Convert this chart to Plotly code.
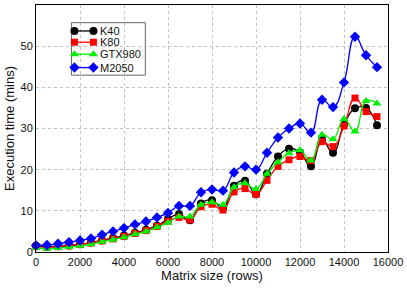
import plotly.graph_objects as go

matrix_size = [0, 500, 1000, 1500, 2000, 2500, 3000, 3500, 4000, 4500, 5000, 5500,
               6000, 6500, 7000, 7500, 8000, 8500, 9000, 9500, 10000, 10500, 11000,
               11500, 12000, 12500, 13000, 13500, 14000, 14500, 15000, 15500]

k40 = [1.5, 1.3, 1.4, 1.6, 1.9, 2.3, 2.8, 3.4, 4.0, 4.7, 5.4, 6.4,
       8.0, 9.2, 7.7, 11.8, 12.6, 10.6, 16.1, 17.3, 14.0, 19.0, 23.2,
       25.1, 24.2, 20.8, 27.3, 24.1, 31.0, 34.9, 35.0, 30.8]

k80 = [1.3, 1.1, 1.3, 1.5, 1.8, 2.2, 2.7, 3.2, 3.8, 4.5, 5.2, 6.2,
       7.5, 8.4, 7.8, 11.0, 11.6, 10.2, 14.6, 15.4, 14.0, 17.4, 20.8,
       22.4, 23.2, 22.2, 26.8, 25.6, 30.6, 37.4, 34.1, 32.9]

gtx980 = [1.0, 0.8, 1.0, 1.2, 1.5, 1.9, 2.5, 3.0, 3.6, 4.3, 5.0, 6.0,
          7.1, 8.6, 8.6, 11.5, 12.1, 11.5, 15.7, 16.7, 15.3, 19.0, 21.8,
          24.0, 24.7, 22.2, 28.5, 27.4, 32.3, 29.3, 36.7, 36.1]

m2050 = [1.6, 1.7, 2.0, 2.4, 2.8, 3.3, 4.2, 5.0, 5.8, 6.7, 7.4, 8.4,
         9.5, 11.2, 11.2, 14.5, 15.2, 14.9, 19.3, 20.8, 20.0, 24.1, 27.8,
         30.0, 31.2, 29.0, 37.0, 35.2, 41.2, 52.3, 47.8, 44.9]

series_names = ["K40", "K80", "GTX980", "M2050"]
x_ticks = [0, 2000, 4000, 6000, 8000, 10000, 12000, 14000, 16000]
y_ticks = [0, 10, 20, 30, 40, 50, 60]

styles = [
    ("#000000", "circle", 8),
    ("#ff0000", "square", 7),
    ("#00ee00", "triangle-up", 8),
    ("#0000ff", "diamond", 8),
]
values = [k40, k80, gtx980, m2050]

fig = go.Figure()
for name, vals, (color, sym, sz) in zip(series_names, values, styles):
    fig.add_trace(go.Scatter(
        x=matrix_size, y=vals, name=name, mode="lines+markers",
        line=dict(color=color, width=1.3, shape="spline", smoothing=1.3),
        marker=dict(color=color, symbol=sym, size=sz),
        cliponaxis=False, showlegend=False,
    ))

# Custom legend (gnuplot style: marker at both ends of a short line)
leg_x0, leg_x1 = 0.1007, 0.3106
leg_y0, leg_y1 = 0.716, 0.9285
samp_x = [0.1092, 0.1631]
text_x = 0.176
row_y = [0.8949, 0.8493, 0.8008, 0.7467]

fig.add_shape(type="rect", xref="paper", yref="paper",
              x0=leg_x0, x1=leg_x1, y0=leg_y0, y1=leg_y1,
              line=dict(color="#666666", width=1), fillcolor="white", layer="between")

for i, (name, (color, sym, sz)) in enumerate(zip(series_names, styles)):
    fig.add_trace(go.Scatter(
        x=samp_x, y=[row_y[i], row_y[i]], xaxis="x2", yaxis="y2",
        mode="lines+markers", showlegend=False, hoverinfo="skip",
        line=dict(color=color, width=1.3),
        marker=dict(color=color, symbol=sym, size=sz),
        cliponaxis=False,
    ))
    fig.add_annotation(x=text_x, y=row_y[i], xref="paper", yref="paper",
                       text=name, showarrow=False, xanchor="left", yanchor="middle",
                       font=dict(size=11))

font_family = "Liberation Sans, Arial, sans-serif"
fig.update_layout(
    width=407, height=289,
    margin=dict(l=35.5, r=19, t=5, b=36.5),
    paper_bgcolor="white", plot_bgcolor="white",
    font=dict(family=font_family, size=11, color="#111111"),
    showlegend=False,
    xaxis=dict(
        range=[0, 16000], tickvals=x_ticks, ticktext=[str(v) for v in x_ticks],
        showgrid=True, gridcolor="#c0c0c0", griddash="dot", gridwidth=1,
        showline=True, linecolor="black", linewidth=1, mirror=True,
        ticks="", zeroline=False, automargin=False,
        title=dict(text="Matrix size (rows)", font=dict(size=13), standoff=0),
    ),
    yaxis=dict(
        range=[0, 60], tickvals=y_ticks, ticktext=[str(v) for v in y_ticks],
        showgrid=True, gridcolor="#c0c0c0", griddash="dot", gridwidth=1,
        showline=True, linecolor="black", linewidth=1, mirror=True,
        ticks="", zeroline=False, automargin=False,
        title=dict(text="Execution time (mins)", font=dict(size=13), standoff=2),
    ),
    xaxis2=dict(domain=[0, 1], range=[0, 1], overlaying="x", visible=False,
                fixedrange=True),
    yaxis2=dict(domain=[0, 1], range=[0, 1], overlaying="y", visible=False,
                fixedrange=True),
)

fig.write_html("out.html", config={"displayModeBar": False},
               post_script="document.body.style.margin='0';")
